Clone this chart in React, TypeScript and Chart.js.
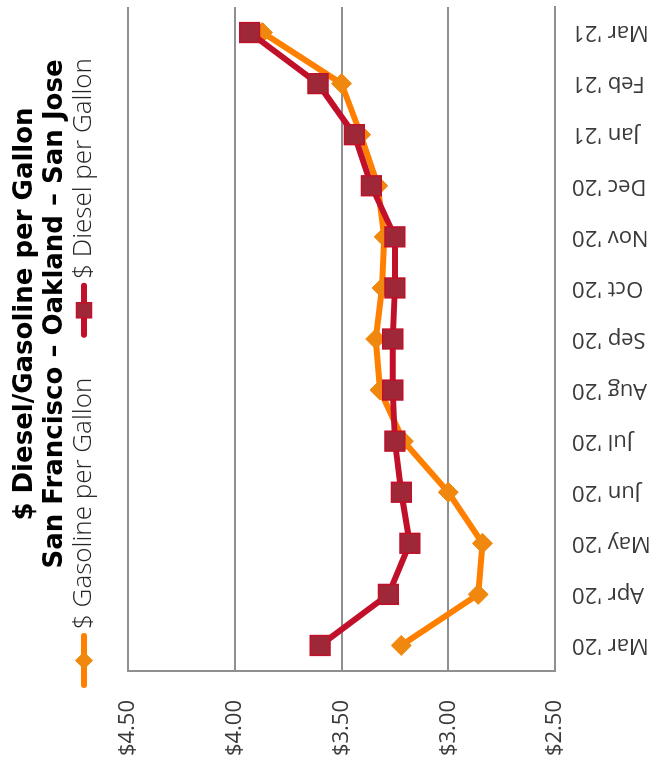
import { useEffect, useRef } from "react";
import { Chart, registerables } from "chart.js";

Chart.register(...registerables);

// Monthly average retail prices, San Francisco – Oakland – San Jose
const months = [
  "Mar '20", "Apr '20", "May '20", "Jun '20", "Jul '20", "Aug '20", "Sep '20",
  "Oct '20", "Nov '20", "Dec '20", "Jan '21", "Feb '21", "Mar '21",
];
const gasolinePrices = [3.22, 2.86, 2.84, 3.0, 3.21, 3.32, 3.34, 3.31, 3.3, 3.33, 3.41, 3.5, 3.87];
const dieselPrices = [3.6, 3.28, 3.18, 3.22, 3.25, 3.26, 3.26, 3.25, 3.25, 3.36, 3.44, 3.61, 3.93];

const priceMin = 2.5;
const priceMax = 4.5;
const priceStep = 0.5;

const titleLines = ["$ Diesel/Gasoline per Gallon", "San Francisco – Oakland – San Jose"];
const seriesNames = ["$ Gasoline per Gallon", "$ Diesel per Gallon"];

// Canvas is laid out landscape and turned a quarter turn counter-clockwise on the page
const W = 774;
const H = 654;

const GAS_LINE = "#FF8000";
const GAS_MARK = "#F0880F";
const DIESEL_LINE = "#C0102A";
const DIESEL_MARK = "#9E2838";
const GRID = "#8f8f8f";
const TEXT = "#3a3a3a";
const TICK_FONT = { family: "'Open Sans', sans-serif", size: 22 };

function drawDiamond(ctx: CanvasRenderingContext2D, x: number, y: number, r: number) {
  ctx.beginPath();
  ctx.moveTo(x - r, y);
  ctx.lineTo(x, y - r);
  ctx.lineTo(x + r, y);
  ctx.lineTo(x, y + r);
  ctx.closePath();
  ctx.fill();
}

function drawSquare(ctx: CanvasRenderingContext2D, x: number, y: number, h: number) {
  ctx.beginPath();
  ctx.rect(x - h, y - h, 2 * h, 2 * h);
  ctx.fill();
  ctx.stroke();
}

// Title and legend drawn above the plot area
const headerPlugin = {
  id: "header",
  afterDraw(chart: Chart) {
    const ctx = chart.ctx;
    ctx.save();
    ctx.fillStyle = "#000";
    ctx.font = "bold 26px 'DejaVu Sans', sans-serif";
    ctx.textAlign = "center";
    ctx.textBaseline = "alphabetic";
    ctx.fillText(titleLines[0], 460, 32);
    ctx.fillText(titleLines[1], 460, 62);

    const ly = 84;
    const swatch = 55;
    const textGap = 4;
    const itemGap = 40;
    ctx.font = "300 26px 'Open Sans', sans-serif";
    ctx.textAlign = "left";
    ctx.textBaseline = "middle";
    let x = 86;
    const swatches = [
      { color: GAS_LINE, mark: (cx: number) => { ctx.fillStyle = GAS_MARK; drawDiamond(ctx, cx, ly, 9); } },
      {
        color: DIESEL_LINE,
        mark: (cx: number) => {
          ctx.fillStyle = DIESEL_MARK;
          ctx.strokeStyle = DIESEL_LINE;
          ctx.lineWidth = 1.5;
          drawSquare(ctx, cx, ly, 7.5);
        },
      },
    ];
    seriesNames.forEach((name, i) => {
      const s = swatches[i];
      ctx.strokeStyle = s.color;
      ctx.lineWidth = 6;
      ctx.lineCap = "round";
      ctx.beginPath();
      ctx.moveTo(x + 3, ly);
      ctx.lineTo(x + swatch - 3, ly);
      ctx.stroke();
      s.mark(x + swatch / 2);
      ctx.fillStyle = "#262626";
      const tx = x + swatch + textGap;
      ctx.fillText(name, tx, ly);
      x = tx + ctx.measureText(name).width + itemGap;
    });
    ctx.restore();
  },
};

export default function App() {
  const ref = useRef<HTMLCanvasElement>(null);

  useEffect(() => {
    const canvas = ref.current;
    if (!canvas) return;
    const chart = new Chart(canvas, {
      type: "line",
      data: {
        labels: months,
        datasets: [
          {
            label: seriesNames[0],
            data: gasolinePrices,
            order: 1,
            borderColor: GAS_LINE,
            borderWidth: 6,
            tension: 0,
            pointStyle: "rectRot",
            pointRadius: 10,
            pointBackgroundColor: GAS_MARK,
            pointBorderColor: GAS_MARK,
            pointBorderWidth: 1,
            fill: false,
          },
          {
            label: seriesNames[1],
            data: dieselPrices,
            order: 0,
            borderColor: DIESEL_LINE,
            borderWidth: 6,
            tension: 0,
            pointStyle: "rect",
            pointRadius: 14,
            pointBackgroundColor: DIESEL_MARK,
            pointBorderColor: DIESEL_LINE,
            pointBorderWidth: 1.5,
            fill: false,
          },
        ],
      },
      options: {
        responsive: false,
        animation: false,
        devicePixelRatio: 1,
        layout: { autoPadding: false, padding: { top: 128, right: 7, left: 0, bottom: 0 } },
        plugins: {
          legend: { display: false },
          title: { display: false },
          tooltip: { enabled: false },
        },
        elements: { line: { borderJoinStyle: "round", borderCapStyle: "round" } },
        scales: {
          x: {
            type: "category",
            offset: true,
            grid: { display: false, drawTicks: false },
            border: { display: true, color: GRID, width: 2 },
            ticks: {
              minRotation: 90,
              maxRotation: 90,
              autoSkip: false,
              padding: 17,
              color: TEXT,
              font: TICK_FONT,
            },
            afterFit: (scale: any) => {
              scale.height = 99;
              scale.paddingLeft = 0;
              scale.paddingRight = 0;
            },
          },
          y: {
            min: priceMin,
            max: priceMax,
            grid: { color: GRID, lineWidth: 2, drawTicks: false },
            border: { display: true, color: GRID, width: 2 },
            ticks: {
              stepSize: priceStep,
              padding: 29,
              color: TEXT,
              font: TICK_FONT,
              callback: (v: any) => "$" + Number(v).toFixed(2),
            },
            afterFit: (scale: any) => {
              scale.width = 103;
              scale.paddingTop = 0;
              scale.paddingBottom = 0;
            },
          },
        },
      },
      plugins: [headerPlugin],
    });
    return () => chart.destroy();
  }, []);

  return (
    <div
      style={{
        position: "fixed",
        left: 0,
        top: 0,
        width: H,
        height: W,
        overflow: "hidden",
        background: "#fff",
      }}
    >
      <div
        style={{
          position: "absolute",
          left: 0,
          top: 0,
          width: W,
          height: H,
          transformOrigin: "0 0",
          transform: `translateY(${W}px) rotate(-90deg)`,
        }}
      >
        <canvas ref={ref} width={W} height={H} style={{ width: W, height: H, display: "block" }} />
      </div>
    </div>
  );
}
